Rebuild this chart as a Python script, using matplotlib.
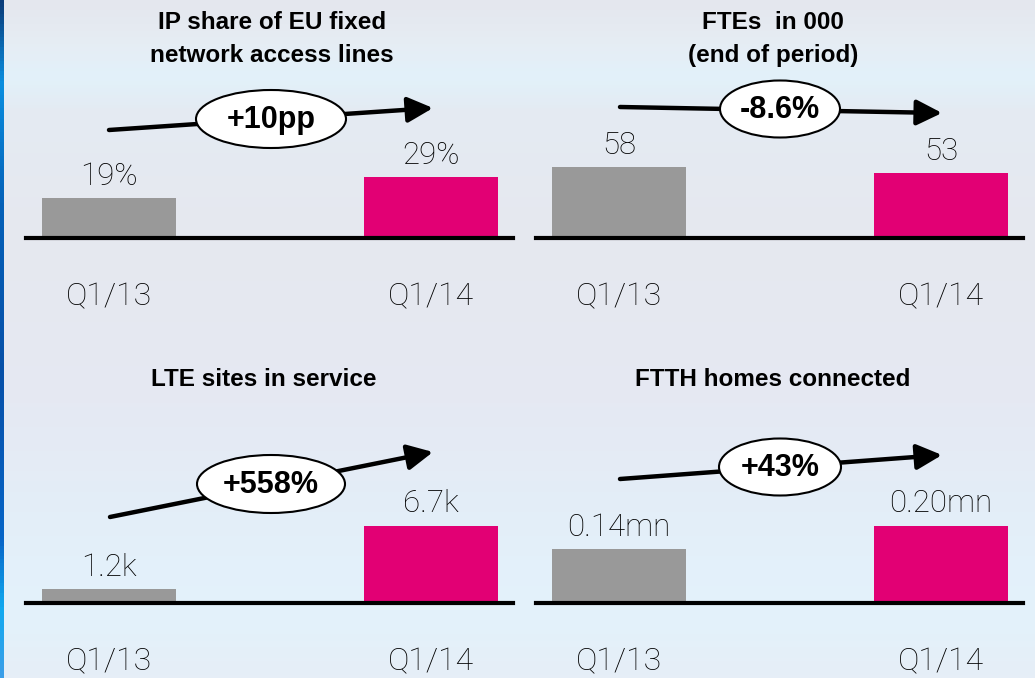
import numpy as np
import matplotlib
matplotlib.use("Agg")
import matplotlib.pyplot as plt
from matplotlib.patches import Ellipse, FancyArrowPatch
from matplotlib.colors import LinearSegmentedColormap

W, H = 1035, 678

# data
periods = ["Q1/13", "Q1/14"]
ip_share = [19, 29]
ip_labels = ["19%", "29%"]
ftes = [58, 53]
fte_labels = ["58", "53"]
lte_sites = [1.2, 6.7]
lte_labels = ["1.2k", "6.7k"]
ftth_homes = [0.14, 0.20]
ftth_labels = ["0.14mn", "0.20mn"]

titles = ["IP share of EU fixed\nnetwork access lines", "FTEs  in 000\n(end of period)",
          "LTE sites in service", "FTTH homes connected"]
changes = ["+10pp", "-8.6%", "+558%", "+43%"]

GRAY = "#999999"
MAGENTA = "#e20074"

fig = plt.figure(figsize=(W / 100, H / 100), dpi=100)

# background gradient
bg = fig.add_axes([0, 0, 1, 1], zorder=-10)
cm = LinearSegmentedColormap.from_list("bg", [
    (0.0, "#e4e7ee"), (0.06, "#e6edf4"), (0.11, "#e2f1fa"), (0.16, "#e4ebf3"),
    (0.35, "#e6e8ef"), (0.6, "#e5e9f3"), (0.82, "#e3f0fa"), (0.92, "#e3f2fb"),
    (1.0, "#e6eef7")])
bg.imshow(np.linspace(0, 1, 200)[:, None], aspect="auto", cmap=cm, extent=[0, 1, 0, 1])
edge = LinearSegmentedColormap.from_list("edge", [
    (0.0, "#0a3d7a"), (0.12, "#0a8fe0"), (0.3, "#0561b8"), (0.55, "#0750a8"),
    (0.8, "#0866c8"), (0.9, "#11aaf0"), (1.0, "#3b9ee8")])
bg.imshow(np.linspace(0, 1, 200)[:, None], aspect="auto", cmap=edge,
          extent=[0, 4 / W, 0, 1])
bg.set_xlim(0, 1)
bg.set_ylim(0, 1)
bg.axis("off")


def fx(x):
    return x / W


def fy(y):
    return 1 - y / H


def panel(x0, base, values, labels, title, change, px_per_unit,
          title_y, arrow, ell):
    top = 0 if base < 300 else 340
    # axis runs along the baseline, bars 134px wide, 322px apart
    ax = fig.add_axes([fx(x0 + 26), fy(base), fx(487), (base - top) / H])
    ax.set_xlim(-83 / 322, 404 / 322)
    ax.set_ylim(0, (base - top) / px_per_unit)
    ax.bar([0, 1], values, width=134 / 322, color=[GRAY, MAGENTA], zorder=2)
    ax.axhline(0, color="black", lw=3, zorder=3, clip_on=False)
    for i, (v, lab) in enumerate(zip(values, labels)):
        ax.annotate(lab, (i, v), xytext=(0, 22), textcoords="offset pixels",
                    ha="center", va="center", fontsize=22.5, family="Roboto",
                    fontweight="light", color="black")
    ax.axis("off")
    for i, p in enumerate(periods):
        ax.annotate(p, (i, 0), xytext=(0, -59), textcoords="offset pixels",
                    ha="center", va="center", fontsize=23, family="Roboto",
                    fontweight="light", color="black", annotation_clip=False)
    fig.text(fx(x0 + ell[4]), fy(title_y), title, ha="center", va="center",
             fontsize=17.5, fontweight="bold", family="Liberation Sans",
             linespacing=1.6)
    # trend arrow with ellipse label
    (x1, y1), (x2, y2) = arrow
    fig.add_artist(FancyArrowPatch(
        (fx(x0 + x1), fy(y1)), (fx(x0 + x2), fy(y2)), transform=fig.transFigure,
        arrowstyle="-|>,head_length=11,head_width=5.5", lw=3.2, color="black",
        mutation_scale=1.4, shrinkA=0, shrinkB=0))
    cx, cy, ew, eh = ell[:4]
    fig.add_artist(Ellipse((fx(x0 + cx), fy(cy)), ew / W, eh / H,
                           transform=fig.transFigure, facecolor="white",
                           edgecolor="black", lw=1.5, zorder=5))
    fig.text(fx(x0 + cx), fy(cy + 1), change, ha="center", va="center",
             fontsize=22, fontweight="bold", family="Liberation Sans", zorder=6)


panel(0, 238, ip_share, ip_labels, titles[0], changes[0], 61 / 29, 39,
      ((109, 130), (433, 108)), (271, 119, 150, 58, 272))
panel(510, 238, ftes, fte_labels, titles[1], changes[1], 71 / 58, 39,
      ((110, 107), (432, 113)), (270, 109, 120, 57, 263))
panel(0, 603, lte_sites, lte_labels, titles[2], changes[2], 77 / 6.7, 379,
      ((110, 517), (433, 452)), (271, 484, 148, 58, 264))
panel(510, 603, ftth_homes, ftth_labels, titles[3], changes[3], 77 / 0.20, 379,
      ((110, 479), (432, 455)), (270, 467, 122, 57, 263))

fig.savefig("out.png", dpi=100)
